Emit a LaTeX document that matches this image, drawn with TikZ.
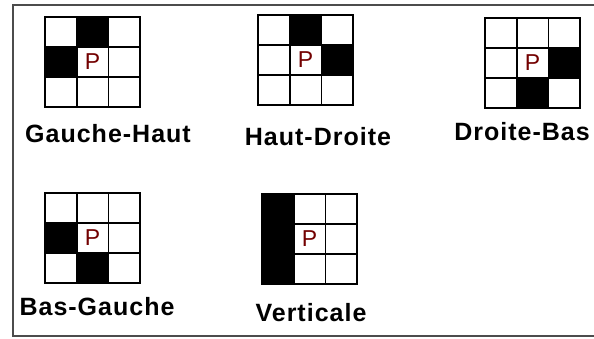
\documentclass[tikz,border=0pt]{standalone}
\usepackage{fontspec}
\setmainfont{Liberation Sans}
\usetikzlibrary{positioning}
\tikzset{case/.style={line width=1.6pt},
  etiq/.style={font=\fontsize{25}{25}\selectfont\bfseries\addfontfeature{LetterSpace=4}},
  lettre/.style={text=red!45!black,font=\fontsize{23}{23}\selectfont}}

\begin{document}
\begin{tikzpicture}[x=1pt,y=-1pt,line join=miter]
\useasboundingbox (0,0) rectangle (594,338);
\fill[white] (0,0) rectangle (594,338);
% --- cadre
\draw[line width=1.5pt,black!70] (594,5) -- (13,5) -- (13,336) -- (594,336);
% --- Gauche-Haut
\begin{scope}[shift={(45,17)}]
\foreach \c/\r in {1/0,0/1} \fill (\c*31.7,\r*30) rectangle ++(31.7,30);
\foreach \c in {0,1,2} \foreach \r in {0,1,2} \draw[case] (\c*31.7,\r*30) rectangle ++(31.7,30);
\node[lettre] (p1) at (47.5,45) {P};
\end{scope}
\node[etiq] (gh) at (108,134) {Gauche-Haut};
% --- Haut-Droite
\begin{scope}[shift={(258,15)}]
\foreach \c/\r in {1/0,2/1} \fill (\c*31.7,\r*30) rectangle ++(31.7,30);
\foreach \c in {0,1,2} \foreach \r in {0,1,2} \draw[case] (\c*31.7,\r*30) rectangle ++(31.7,30);
\node[lettre] (p2) at (47.5,45) {P};
\end{scope}
\node[etiq] (hd) at (318,137) {Haut-Droite};
% --- Droite-Bas
\begin{scope}[shift={(485,18)}]
\foreach \c/\r in {2/1,1/2} \fill (\c*31.7,\r*30) rectangle ++(31.7,30);
\foreach \c in {0,1,2} \foreach \r in {0,1,2} \draw[case] (\c*31.7,\r*30) rectangle ++(31.7,30);
\node[lettre] (p3) at (47.5,45) {P};
\end{scope}
\node[etiq] (db) at (522,132) {Droite-Bas};
% --- Bas-Gauche
\begin{scope}[shift={(45,193)}]
\foreach \c/\r in {0/1,1/2} \fill (\c*31.7,\r*30) rectangle ++(31.7,30);
\foreach \c in {0,1,2} \foreach \r in {0,1,2} \draw[case] (\c*31.7,\r*30) rectangle ++(31.7,30);
\node[lettre] (p4) at (47.5,45) {P};
\end{scope}
\node[etiq] (bg) at (97,307) {Bas-Gauche};
% --- Verticale
\begin{scope}[shift={(262,194)}]
\foreach \c in {0,1,2} \foreach \r in {0,1,2} \draw[case] (\c*31.7,\r*30) rectangle ++(31.7,30);
\fill (0,0) rectangle (31.7,90);
\node[lettre] (p5) at (47.5,45) {P};
\end{scope}
\node[etiq] (vert) at (311,313) {Verticale};
\end{tikzpicture}
\end{document}
